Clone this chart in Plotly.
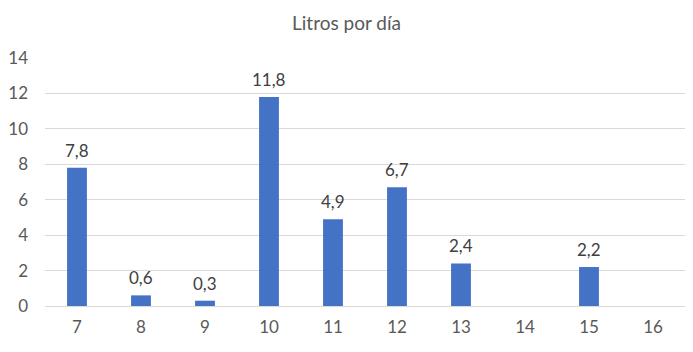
import plotly.graph_objects as go

categories = ["7", "8", "9", "10", "11", "12", "13", "14", "15", "16"]
values = [7.8, 0.6, 0.3, 11.8, 4.9, 6.7, 2.4, None, 2.2, None]
labels = [("" if v is None else f"{v:.1f}".replace(".", ",")) for v in values]
y_ticks = [0, 2, 4, 6, 8, 10, 12, 14]

FONT = "Lato, Calibri, Carlito, sans-serif"

fig = go.Figure(go.Bar(
    x=categories, y=values,
    marker=dict(color="#4472C4", line=dict(width=0)),
))

for i, (v, t) in enumerate(zip(values, labels)):
    if v is None:
        continue
    fig.add_annotation(x=i, y=v, text=t, showarrow=False, yanchor="bottom", yshift=5,
                       font=dict(size=17, color="#404040", family=FONT))

fig.update_layout(
    width=693, height=352,
    margin=dict(l=45, r=8, t=58, b=46),
    paper_bgcolor="white", plot_bgcolor="white",
    bargap=0.69,
    showlegend=False,
    title=dict(text="Litros por día", x=0.5, xanchor="center", y=0.935, yanchor="middle",
               font=dict(size=19, color="#595959", family=FONT)),
    xaxis=dict(type="category", range=[-0.5, len(categories) - 0.5], showgrid=False,
               showline=True, linecolor="#d9d9d9", linewidth=1,
               ticks="", tickfont=dict(size=17, color="#595959", family=FONT), ticklabelstandoff=6),
    yaxis=dict(range=[0, 14], tickvals=y_ticks, showgrid=True, gridcolor="#d9d9d9", gridwidth=1,
               zeroline=False, showline=False, ticks="",
               tickfont=dict(size=17, color="#595959", family=FONT), ticklabelstandoff=16),
)

fig.write_html("out.html")
